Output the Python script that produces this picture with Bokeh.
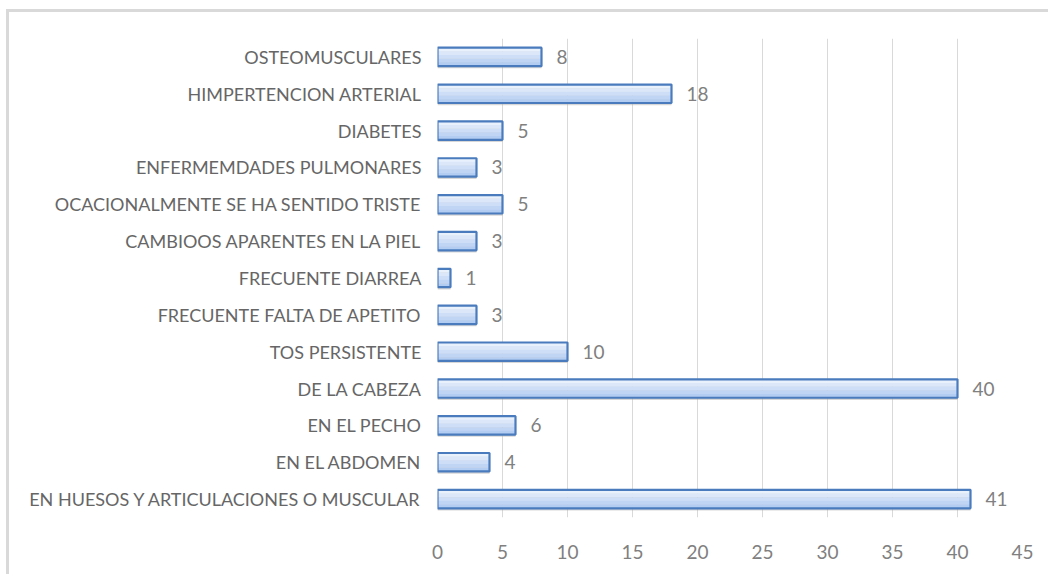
from bokeh.plotting import figure
from bokeh.models import FactorRange, Range1d, ColumnDataSource, LabelSet, FixedTicker
from bokeh.core.properties import value
from bokeh.transform import dodge
from bokeh.embed import file_html
from bokeh.resources import INLINE

categories = [
    "OSTEOMUSCULARES",
    "HIMPERTENCION ARTERIAL",
    "DIABETES",
    "ENFERMEMDADES PULMONARES",
    "OCACIONALMENTE SE HA SENTIDO TRISTE",
    "CAMBIOOS APARENTES EN LA PIEL",
    "FRECUENTE DIARREA",
    "FRECUENTE FALTA DE APETITO",
    "TOS PERSISTENTE",
    "DE LA CABEZA",
    "EN EL PECHO",
    "EN EL ABDOMEN",
    "EN HUESOS Y ARTICULACIONES O MUSCULAR",
]
values = [8, 18, 5, 3, 5, 3, 1, 3, 10, 40, 6, 4, 41]
x_ticks = [0, 5, 10, 15, 20, 25, 30, 35, 40, 45]

FONT = "Lato"
CAT_COLOR = "#666666"
NUM_COLOR = "#808080"

src = ColumnDataSource(dict(cat=categories, val=values, lbl=[str(v) for v in values]))

p = figure(
    width=1042, height=565,
    y_range=FactorRange(factors=list(reversed(categories))),
    x_range=Range1d(0, 45),
    output_backend="svg", toolbar_location=None,
    min_border_left=428, min_border_right=29, min_border_top=26, min_border_bottom=60,
)
p.styles = {"border-top": "3px solid #d9d9d9", "border-left": "3px solid #d9d9d9",
            "box-sizing": "border-box", "margin-left": "6px", "margin-top": "9px"}
p.y_range.range_padding = 0
p.outline_line_color = None
p.background_fill_color = "white"
p.border_fill_color = "white"

BH = 0.5
# shadow
p.hbar(y=dodge("cat", -0.06, range=p.y_range), left=0, right="val", height=BH,
       source=src, fill_color="#a6a6a6", fill_alpha=0.45, line_color=None)
# gradient-like strips (top light -> bottom deeper)
colors = ["#e9f1fc", "#dce8f9", "#cedef7", "#c0d5f4", "#b3ccf1"]
n = len(colors)
for i, c in enumerate(colors):
    off = BH / 2 - (i + 0.5) * BH / n
    p.hbar(y=dodge("cat", off, range=p.y_range), left=0, right="val", height=BH / n + 0.005,
           source=src, fill_color=c, line_color=None)
# outline
p.hbar(y="cat", left=0, right="val", height=BH, source=src,
       fill_color=None, line_color="#4a7bbd", line_width=2.2)

labels = LabelSet(x="val", y="cat", text="lbl", source=src, x_offset=15, y_offset=0,
                  text_baseline="middle", text_align="left", text_color=NUM_COLOR,
                  text_font=value(FONT), text_font_size="19px")
p.add_layout(labels)

p.xgrid.grid_line_color = "#d9d9d9"
p.xgrid.grid_line_width = 1
p.ygrid.grid_line_color = None
p.xaxis.ticker = FixedTicker(ticks=x_ticks)
p.xaxis.axis_line_color = None
p.xaxis.major_tick_line_color = None
p.xaxis.minor_tick_line_color = None
p.xaxis.major_label_standoff = 21
p.xaxis.major_label_text_font = FONT
p.xaxis.major_label_text_font_size = "19px"
p.xaxis.major_label_text_color = NUM_COLOR

p.yaxis.axis_line_color = None
p.yaxis.major_tick_line_color = None
p.yaxis.major_label_standoff = 10
p.yaxis.major_label_text_font = FONT
p.yaxis.major_label_text_font_size = "18px"
p.yaxis.major_label_text_color = CAT_COLOR

open("out.html", "w").write(file_html(p, INLINE))
